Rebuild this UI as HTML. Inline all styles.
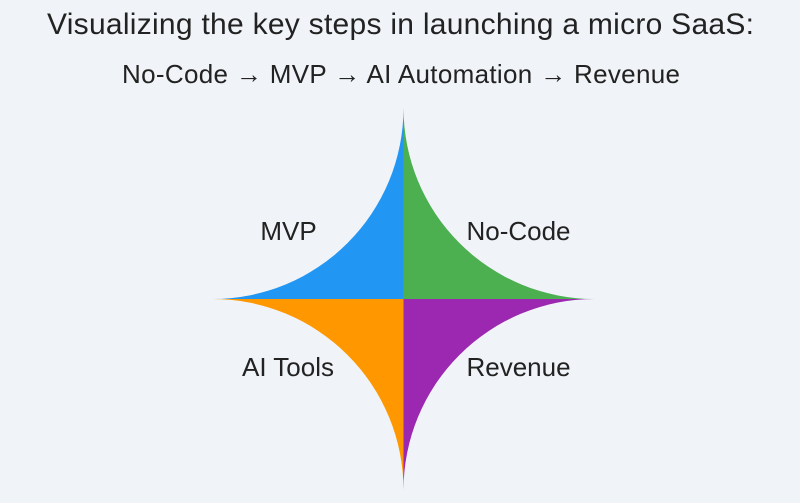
<!DOCTYPE html>
<html>
<head>
<meta charset="utf-8">
<style>
  html, body { margin:0; padding:0; }
  body { width:800px; height:503px; background:#f0f4f8; overflow:hidden; }
  svg { display:block; }
  text { font-family: "Liberation Sans", Arial, sans-serif; fill:#222; }
</style>
</head>
<body>
<svg width="800" height="503" viewBox="0 0 800 503" xmlns="http://www.w3.org/2000/svg">
  <rect width="800" height="503" fill="#f0f4f8"/>
  <text x="400.5" y="34" font-size="30" text-anchor="middle" textLength="707" lengthAdjust="spacing">Visualizing the key steps in launching a micro SaaS:</text>
  <text x="401" y="83" font-size="26" text-anchor="middle" textLength="558" lengthAdjust="spacing">No-Code → MVP → AI Automation → Revenue</text>

  <!-- star quadrants: center (403.5,299), r=191, circular concave arcs -->
  <path d="M403.5,108 A191,191 0 0 1 212.5,299 L403.5,299 Z" fill="#2196F3"/>
  <path d="M403.5,108 A191,191 0 0 0 594.5,299 L403.5,299 Z" fill="#4CAF50"/>
  <path d="M403.5,490 A191,191 0 0 0 212.5,299 L403.5,299 Z" fill="#FF9800"/>
  <path d="M403.5,490 A191,191 0 0 1 594.5,299 L403.5,299 Z" fill="#9C27B0"/>

  <text x="288.5" y="240" font-size="26" text-anchor="middle">MVP</text>
  <text x="518.5" y="240" font-size="26" text-anchor="middle">No-Code</text>
  <text x="288" y="376" font-size="26" text-anchor="middle">AI Tools</text>
  <text x="518.5" y="376" font-size="26" text-anchor="middle">Revenue</text>
</svg>
</body>
</html>
